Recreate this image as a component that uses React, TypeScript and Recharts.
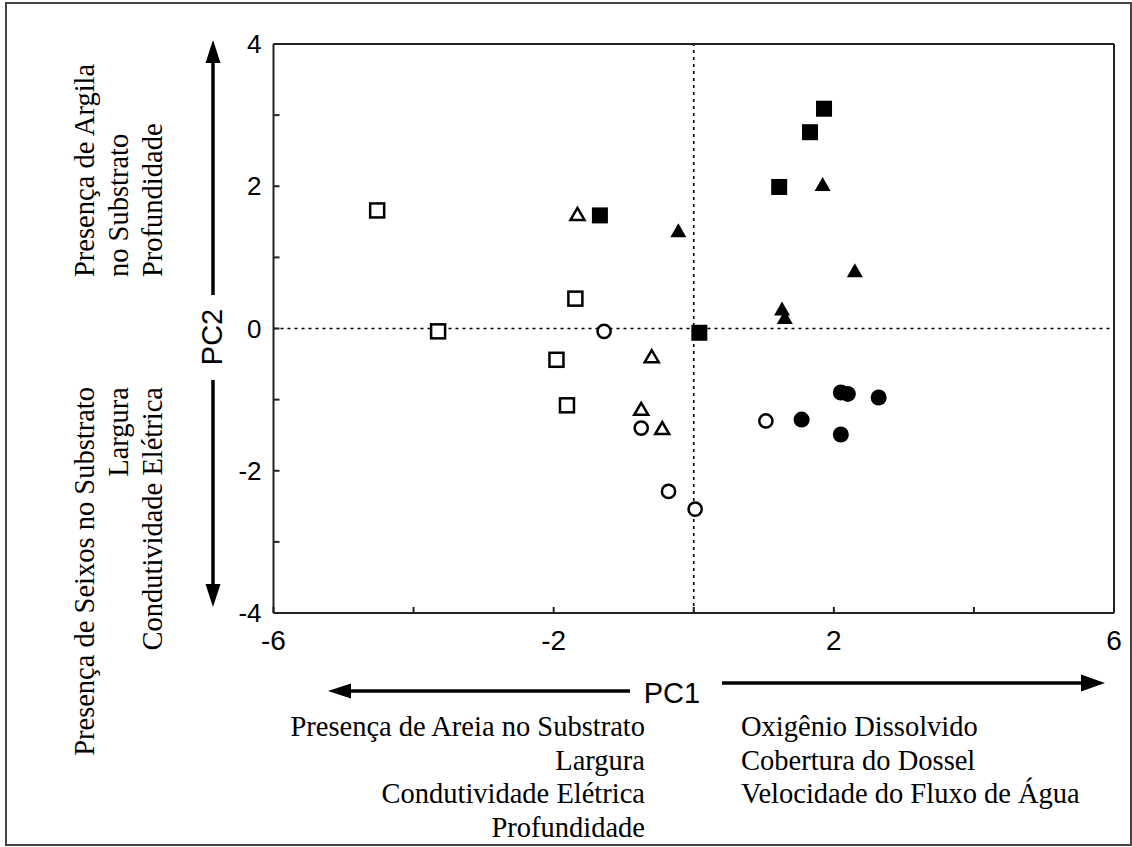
import { ScatterChart, Scatter, XAxis, YAxis, ReferenceLine } from "recharts";

const xTicks = [-6, -4, -2, 0, 2, 4, 6];
const xLabels = [-6, -2, 2, 6];
const yTicks = [-4, -3, -2, -1, 0, 1, 2, 3, 4];
const yLabels = [-4, -2, 0, 2, 4];

const openSquares = [
  { x: -4.52, y: 1.66 },
  { x: -3.65, y: -0.04 },
  { x: -1.69, y: 0.42 },
  { x: -1.96, y: -0.44 },
  { x: -1.81, y: -1.08 },
];
const openTriangles = [
  { x: -1.66, y: 1.61 },
  { x: -0.6, y: -0.39 },
  { x: -0.75, y: -1.13 },
  { x: -0.45, y: -1.4 },
];
const openCircles = [
  { x: -1.28, y: -0.04 },
  { x: -0.75, y: -1.4 },
  { x: -0.36, y: -2.29 },
  { x: 0.02, y: -2.54 },
  { x: 1.03, y: -1.3 },
];
const filledSquares = [
  { x: -1.34, y: 1.59 },
  { x: 0.08, y: -0.06 },
  { x: 1.22, y: 1.99 },
  { x: 1.66, y: 2.76 },
  { x: 1.86, y: 3.09 },
];
const filledTriangles = [
  { x: -0.22, y: 1.38 },
  { x: 1.84, y: 2.03 },
  { x: 2.3, y: 0.82 },
  { x: 1.26, y: 0.28 },
  { x: 1.3, y: 0.16 },
];
const filledCircles = [
  { x: 1.54, y: -1.28 },
  { x: 2.1, y: -0.9 },
  { x: 2.2, y: -0.92 },
  { x: 2.64, y: -0.97 },
  { x: 2.1, y: -1.49 },
];

const pc1Left = ["Presença de Areia no Substrato", "Largura", "Condutividade Elétrica", "Profundidade"];
const pc1Right = ["Oxigênio Dissolvido", "Cobertura do Dossel", "Velocidade do Fluxo de Água"];
const pc2Up = ["Presença de Argila", "no Substrato", "Profundidade"];
const pc2Down = ["Presença de Seixos no Substrato", "Largura", "Condutividade Elétrica"];

const SANS = "'Liberation Sans', Arial, sans-serif";
const SERIF = "'Liberation Serif', 'Times New Roman', serif";

// marker drawn at the scaled point
const marker = (kind: string, filled: boolean) => (props: any) => {
  const { cx, cy } = props;
  if (cx == null || cy == null) return <g />;
  const fill = filled ? "#000" : "#fff";
  const sw = filled ? 0 : 2.5;
  if (kind === "square") {
    const s = filled ? 16 : 14;
    return <rect x={cx - s / 2} y={cy - s / 2} width={s} height={s} fill={fill} stroke="#000" strokeWidth={sw} />;
  }
  if (kind === "circle") {
    const r = filled ? 8 : 6.6;
    return <circle cx={cx} cy={cy} r={r} fill={fill} stroke="#000" strokeWidth={sw} />;
  }
  const w = filled ? 16 : 14;
  const h = filled ? 14 : 12;
  const pts = `${cx},${cy - h / 2} ${cx - w / 2},${cy + h / 2} ${cx + w / 2},${cy + h / 2}`;
  return <polygon points={pts} fill={fill} stroke="#000" strokeWidth={sw} strokeLinejoin="miter" />;
};

const frame = { stroke: "#222", strokeWidth: 2 };

export default function App() {
  return (
    <div style={{ position: "absolute", left: 0, top: 0, width: 1132, height: 847, background: "#fff" }}>
      <ScatterChart
        width={1132}
        height={847}
        margin={{ top: 43, right: 17, bottom: 194, left: 213.5 }}
      >
        <XAxis
          type="number"
          dataKey="x"
          domain={[-6, 6]}
          ticks={xTicks}
          interval={0}
          height={40}
          axisLine={frame}
          tickLine={frame}
          tickSize={-6}
          tickMargin={23}
          tickFormatter={(v: number) => (xLabels.includes(v) ? String(v) : "")}
          tick={{ fill: "#000", fontSize: 28, fontFamily: SANS }}
        />
        <XAxis
          xAxisId="top"
          orientation="top"
          type="number"
          dataKey="x"
          domain={[-6, 6]}
          ticks={xTicks}
          interval={0}
          height={1}
          axisLine={frame}
          tickLine={frame}
          tickSize={-6}
          tickFormatter={() => ""}
        />
        <YAxis
          type="number"
          dataKey="y"
          domain={[-4, 4]}
          ticks={yTicks}
          interval={0}
          width={60}
          axisLine={frame}
          tickLine={frame}
          tickSize={-6}
          tickMargin={18}
          tickFormatter={(v: number) => (yLabels.includes(v) ? String(v) : "")}
          tick={{ fill: "#000", fontSize: 26, fontFamily: SANS }}
        />
        <YAxis
          yAxisId="right"
          orientation="right"
          type="number"
          dataKey="y"
          domain={[-4, 4]}
          ticks={yTicks}
          interval={0}
          width={1}
          axisLine={frame}
          tickLine={frame}
          tickSize={-6}
          tickFormatter={() => ""}
        />
        <ReferenceLine x={0} stroke="#000" strokeWidth={1.6} strokeDasharray="3 4" />
        <ReferenceLine y={0} stroke="#000" strokeWidth={1.6} strokeDasharray="3 4" />
        <Scatter data={openSquares} shape={marker("square", false)} isAnimationActive={false} />
        <Scatter data={openTriangles} shape={marker("triangle", false)} isAnimationActive={false} />
        <Scatter data={openCircles} shape={marker("circle", false)} isAnimationActive={false} />
        <Scatter data={filledSquares} shape={marker("square", true)} isAnimationActive={false} />
        <Scatter data={filledTriangles} shape={marker("triangle", true)} isAnimationActive={false} />
        <Scatter data={filledCircles} shape={marker("circle", true)} isAnimationActive={false} />
      </ScatterChart>

      <svg
        width={1132}
        height={847}
        style={{ position: "absolute", left: 0, top: 0, pointerEvents: "none" }}
      >
        <rect x={6} y={3} width={1125} height={842} fill="none" stroke="#444" strokeWidth={2} />

        {/* PC1 arrows */}
        <line x1={630} y1={691} x2={345} y2={691} stroke="#000" strokeWidth={3.5} />
        <polygon points="328,691 351,683.5 351,698.5" fill="#000" />
        <line x1={722} y1={683} x2={1085} y2={683} stroke="#000" strokeWidth={3.5} />
        <polygon points="1105,683 1081,674.5 1081,691.5" fill="#000" />
        <text x={672} y={703} textAnchor="middle" fontFamily={SANS} fontSize={29} fill="#000">
          PC1
        </text>

        {/* PC2 arrows */}
        <line x1={213} y1={295} x2={213} y2={58} stroke="#000" strokeWidth={3.5} />
        <polygon points="213,40 205.5,63 220.5,63" fill="#000" />
        <line x1={213} y1={380} x2={213} y2={590} stroke="#000" strokeWidth={3.5} />
        <polygon points="213,607 205.5,584 220.5,584" fill="#000" />
        <text
          transform="translate(222,337) rotate(-90)"
          textAnchor="middle"
          fontFamily={SANS}
          fontSize={29}
          fill="#000"
        >
          PC2
        </text>

        {pc1Left.map((t, i) => (
          <text key={"l" + i} x={645} y={736 + i * 33.5} textAnchor="end" fontFamily={SERIF} fontSize={28.5} fill="#000">
            {t}
          </text>
        ))}
        {pc1Right.map((t, i) => (
          <text key={"r" + i} x={741} y={736 + i * 33.5} textAnchor="start" fontFamily={SERIF} fontSize={28.5} fill="#000">
            {t}
          </text>
        ))}
        {pc2Up.map((t, i) => (
          <text
            key={"u" + i}
            transform={`translate(${94 + i * 34},277) rotate(-90)`}
            textAnchor="start"
            fontFamily={SERIF}
            fontSize={28.5}
            fill="#000"
          >
            {t}
          </text>
        ))}
        {pc2Down.map((t, i) => (
          <text
            key={"d" + i}
            transform={`translate(${94 + i * 34},387) rotate(-90)`}
            textAnchor="end"
            fontFamily={SERIF}
            fontSize={28.5}
            fill="#000"
          >
            {t}
          </text>
        ))}
      </svg>
    </div>
  );
}
